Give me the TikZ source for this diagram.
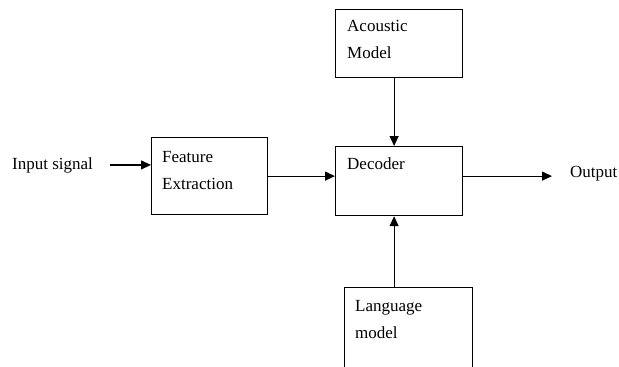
\documentclass[tikz,border=0pt]{standalone}
\usepackage{fontspec}
\setmainfont{Liberation Serif}
\usetikzlibrary{arrows.meta, calc, positioning}

\tikzset{
	block/.style={draw, line width=1.2pt, minimum width=#1, anchor=north west, inner sep=0pt},
	lbl/.style={font=\fontsize{17}{27}\selectfont, align=left, inner sep=0pt, anchor=north west},
	flow/.style={->, line width=1.2pt}
}

\begin{document}
\begin{tikzpicture}[x=1pt, y=-1pt, >={Triangle[length=10pt, width=9pt]}]
		
		% --- 0. PAGE FRAME ---
		\useasboundingbox (0,0) rectangle (619,367);
		\clip (0,0) rectangle (619,367);
		
		% --- 1. THE BLOCKS ---
		\node[block=116pt, minimum height=77pt] (feat) at (151,137) {};
		\node[block=127pt, minimum height=68pt] (acou) at (335,9) {};
		\node[block=127pt, minimum height=69pt] (dec) at (335,146) {};
		% Language model box runs off the bottom edge
		\node[block=128pt, minimum height=110pt] (lang) at (344,287) {};
		
		% Texts inside the blocks (top left)
		\node[lbl, below right=14pt and 11pt of feat.north west] (feattxt) {Feature\\Extraction};
		\node[lbl, below right=11pt and 12pt of acou.north west] (acoutxt) {Acoustic\\Model};
		\node[lbl, below right=12pt and 12pt of dec.north west] (dectxt) {Decoder};
		\node[lbl, below right=13pt and 11pt of lang.north west] (langtxt) {Language\\model};
		
		% --- 2. INPUT AND OUTPUT ---
		\node[lbl, anchor=base west] (input) at (12,169) {Input signal};
		\node[lbl, anchor=base west] (output) at (570,177) {Output};
		
		% --- 3. THE ARROWS ---
		\draw[flow, shorten <=17pt] (input.east) -- (input.east -| feat.west);
		\draw[flow] (feat.east) -- (feat.east -| dec.west);
		\draw[flow] ([xshift=-5pt]acou.south) -- ([xshift=-5pt]dec.north);
		\draw[flow] ([xshift=-5pt]dec.south |- lang.north) -- ([xshift=-5pt]dec.south);
		\draw[flow, shorten >=18pt] ([yshift=5pt]dec.east) -- ([yshift=5pt]dec.east -| output.west);
		
	\end{tikzpicture}
\end{document}
